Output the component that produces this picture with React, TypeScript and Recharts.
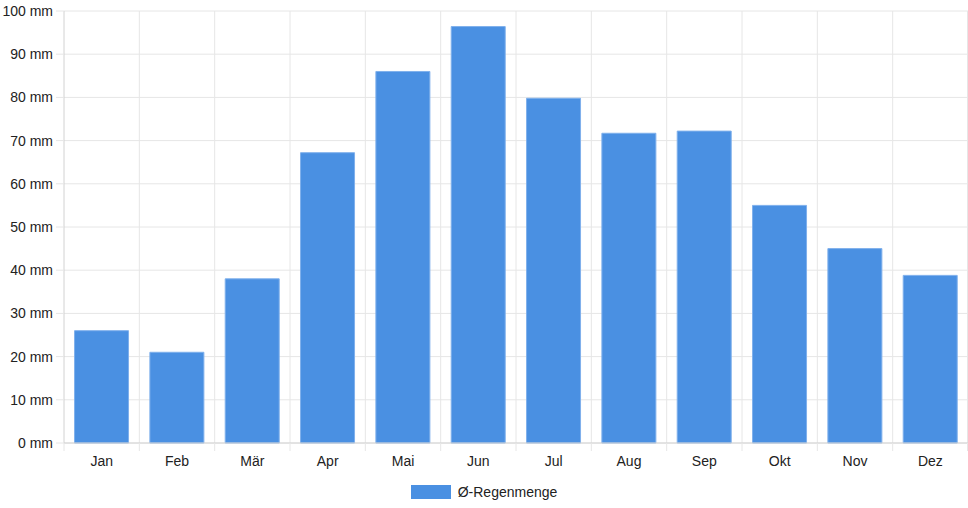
import { BarChart, Bar, XAxis, YAxis, CartesianGrid, Legend } from "recharts";

// Monatliche Regenmenge
const months = ["Jan", "Feb", "Mär", "Apr", "Mai", "Jun", "Jul", "Aug", "Sep", "Okt", "Nov", "Dez"];
const rain = [26, 21, 38, 67.2, 86, 96.4, 79.8, 71.7, 72.2, 55, 45, 38.8];
const yTicks = [0, 10, 20, 30, 40, 50, 60, 70, 80, 90, 100];

const data = months.map((m, i) => ({ name: m, value: rain[i] }));

const FONT = '"Liberation Sans", Arial, Helvetica, sans-serif';
const GRID = "#e6e6e6";
const AXIS = "#d2d2d2";
const TEXT = "#222";
const BAR = "#4a90e2";

// x tick: label in band center, tick mark on the left band boundary
function MonthTick(props: any) {
  const { x, y, payload, index, width } = props;
  const band = width / months.length;
  const left = x - band / 2;
  return (
    <g>
      <line x1={left} x2={left} y1={y} y2={y + 8} stroke={GRID} />
      {index === months.length - 1 && (
        <line x1={left + band - 0.5} x2={left + band - 0.5} y1={y} y2={y + 8} stroke={GRID} />
      )}
      <text x={x} y={y + 23} textAnchor="middle" fill={TEXT} fontSize={14} fontFamily={FONT}>
        {payload.value}
      </text>
    </g>
  );
}

function LegendBox() {
  return (
    <div
      style={{
        display: "flex",
        justifyContent: "center",
        alignItems: "center",
        paddingTop: 6,
        fontFamily: FONT,
        fontSize: 14,
        color: TEXT,
      }}
    >
      <span style={{ display: "inline-block", width: 40, height: 14, background: BAR, marginRight: 7 }} />
      <span>Ø-Regenmenge</span>
    </div>
  );
}

export default function App() {
  return (
    <div style={{ position: "absolute", left: 0, top: 0, fontFamily: FONT }}>
      <BarChart
        width={968}
        height={508}
        data={data}
        margin={{ top: 11, right: 0, bottom: 0, left: 0 }}
        barCategoryGap="14%"
      >
        <CartesianGrid
          stroke={GRID}
          verticalCoordinatesGenerator={({ offset }: any) =>
            months.map((_, i) =>
              offset.left + ((i + 1) * offset.width) / months.length - (i === months.length - 1 ? 0.5 : 0)
            )
          }
        />
        <XAxis
          dataKey="name"
          height={35}
          interval={0}
          tickSize={0}
          tickMargin={0}
          axisLine={{ stroke: AXIS }}
          tickLine={false}
          tick={<MonthTick />}
        />
        <YAxis
          width={64}
          domain={[0, 100]}
          ticks={yTicks}
          interval={0}
          tickSize={8}
          tickMargin={3}
          axisLine={{ stroke: AXIS }}
          tickLine={{ stroke: GRID }}
          tick={{ fill: TEXT, fontSize: 14, fontFamily: FONT }}
          tickFormatter={(v: number) => `${v} mm`}
        />
        <Legend verticalAlign="bottom" height={30} wrapperStyle={{ left: 0, width: 968 }} content={<LegendBox />} />
        <Bar dataKey="value" fill={BAR} stroke="#7fb0ec" strokeWidth={1} isAnimationActive={false} />
      </BarChart>
    </div>
  );
}
